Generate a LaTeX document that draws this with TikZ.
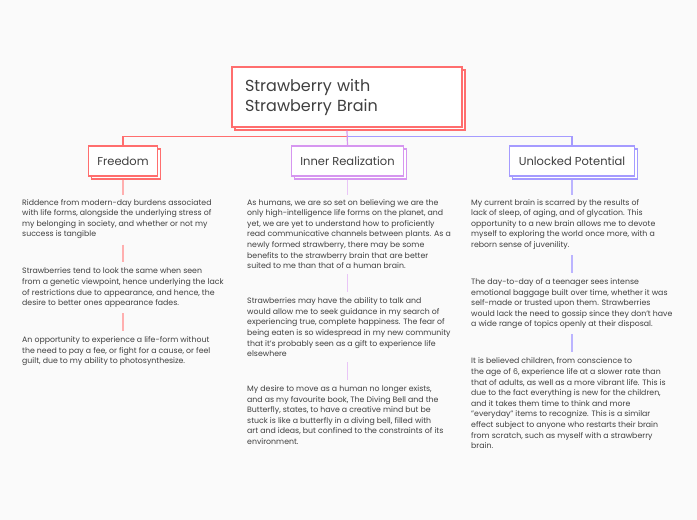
\documentclass[tikz,border=0pt]{standalone}
\usepackage{fontspec}
\setmainfont{Poppins}
\usepackage{tikz}
\usetikzlibrary{positioning,shadows}
\definecolor{colortext}     {RGB}{ 64, 64, 64}
\definecolor{colorbg}       {RGB}{250,250,250}
\definecolor{colorroot}     {RGB}{255,110,110}
\definecolor{colorfreedom}  {RGB}{255,110,110}
\definecolor{colorinner}    {RGB}{214,150,240}
\definecolor{colorunlocked} {RGB}{165,155,255}

\begin{document}
\begin{tikzpicture}[
    x=1pt, y=-1pt,
    node distance=20.5pt,
    base/.style={text=colortext,fill=white,line width=1.3pt,rectangle,
                 copy shadow={shadow xshift=3pt,shadow yshift=-3pt}},
    root/.style={base,draw=colorroot,text width=204pt,inner xsep=13pt,minimum height=60pt,
                 align=left,font={\fontsize{16}{20}\selectfont}},
    branch/.style={base,minimum height=30pt,inner xsep=9pt,font={\fontsize{11.5}{13}\selectfont}},
    txt/.style={text=colortext,align=left,inner xsep=0pt,inner ysep=4pt,
                font={\fontsize{7.8}{10.6}\selectfont}},
    link/.style={line width=1.2pt},
    stem/.style={line width=1.2pt},
    gap/.style={stem,shorten <=1.3pt,shorten >=1.3pt},
]

    \path[use as bounding box,fill=colorbg] (0,0) rectangle (697,520);

    \node[root] (root) at (347,97) {Strawberry with\\Strawberry Brain};

    \node[branch,draw=colorfreedom]  (freedom)  at (123,161)   {Freedom};
    \node[branch,draw=colorinner]    (inner)    at (347.5,161) {Inner Realization};
    \node[branch,draw=colorunlocked] (unlocked) at (572,161)   {Unlocked Potential};

    % Freedom
    \node[txt,anchor=north west] (free1) at (22,195)
        {Riddence from modern-day burdens associated\\with life forms, alongside the underlying stress of\\my belonging in society, and whether or not my\\success is tangible};
    \node[txt,below=of free1.south west,anchor=north west] (free2)
        {Strawberries tend to look the same when seen\\from a genetic viewpoint, hence underlying the lack\\of restrictions due to appearance, and hence, the\\desire to better ones appearance fades.};
    \node[txt,below=of free2.south west,anchor=north west] (free3)
        {An opportunity to experience a life-form without\\the need to pay a fee, or fight for a cause, or feel\\guilt, due to my ability to photosynthesize.};

    % Inner Realization
    \node[txt,anchor=north west] (inner1) at (247,195)
        {As humans, we are so set on believing we are the\\only high-intelligence life forms on the planet, and\\yet, we are yet to understand how to proficiently\\read communicative channels between plants. As a\\newly formed strawberry, there may be some\\benefits to the strawberry brain that are better\\suited to me than that of a human brain.};
    \node[txt,below=of inner1.south west,anchor=north west] (inner2)
        {Strawberries may have the ability to talk and\\would allow me to seek guidance in my search of\\experiencing true, complete happiness. The fear of\\being eaten is so widespread in my new community\\that it's probably seen as a gift to experience life\\elsewhere};
    \node[txt,below=of inner2.south west,anchor=north west] (inner3)
        {My desire to move as a human no longer exists,\\and as my favourite book, The Diving Bell and the\\Butterfly, states, to have a creative mind but be\\stuck is like a butterfly in a diving bell, filled with\\art and ideas, but confined to the constraints of its\\environment.};

    % Unlocked Potential
    \node[txt,anchor=north west] (unlock1) at (471,195)
        {My current brain is scarred by the results of\\lack of sleep, of aging, and of glycation. This\\opportunity to a new brain allows me to devote\\myself to exploring the world once more, with a\\reborn sense of juvenility.};
    \node[txt,below=of unlock1.south west,anchor=north west] (unlock2)
        {The day-to-day of a teenager sees intense\\emotional baggage built over time, whether it was\\self-made or trusted upon them. Strawberries\\would lack the need to gossip since they don't have\\a wide range of topics openly at their disposal.};
    \node[txt,below=of unlock2.south west,anchor=north west] (unlock3)
        {It is believed children, from conscience to\\the age of 6, experience life at a slower rate than\\that of adults, as well as a more vibrant life. This is\\due to the fact everything is new for the children,\\and it takes them time to think and more\\"everyday" items to recognize. This is a similar\\effect subject to anyone who restarts their brain\\from scratch, such as myself with a strawberry\\brain.};

    % links from the root
    \coordinate (hub) at ([yshift=-9pt]root.south);
    \draw[link,colorroot]     (hub) -| (freedom.north);
    \draw[link,colorunlocked] (hub) -| (unlocked.north);
    \draw[link,colorinner]    ([yshift=-3pt]root.south) -- (inner.north);

    % stems
    \draw[stem,colorfreedom!55] ([yshift=-3pt]freedom.south) -- (freedom.south |- free1.north);
    \draw[gap,colorfreedom!55] (freedom.south |- free1.south) -- (freedom.south |- free2.north);
    \draw[gap,colorfreedom!55] (freedom.south |- free2.south) -- (freedom.south |- free3.north);

    \draw[stem,colorinner!55] ([yshift=-3pt]inner.south) -- (inner.south |- inner1.north);
    \draw[gap,colorinner!55] (inner.south |- inner1.south) -- (inner.south |- inner2.north);
    \draw[gap,colorinner!55] (inner.south |- inner2.south) -- (inner.south |- inner3.north);

    \draw[stem,colorunlocked!75] ([yshift=-3pt]unlocked.south) -- (unlocked.south |- unlock1.north);
    \draw[gap,colorunlocked!75] (unlocked.south |- unlock1.south) -- (unlocked.south |- unlock2.north);
    \draw[gap,colorunlocked!75] (unlocked.south |- unlock2.south) -- (unlocked.south |- unlock3.north);

\end{tikzpicture}
\end{document}
